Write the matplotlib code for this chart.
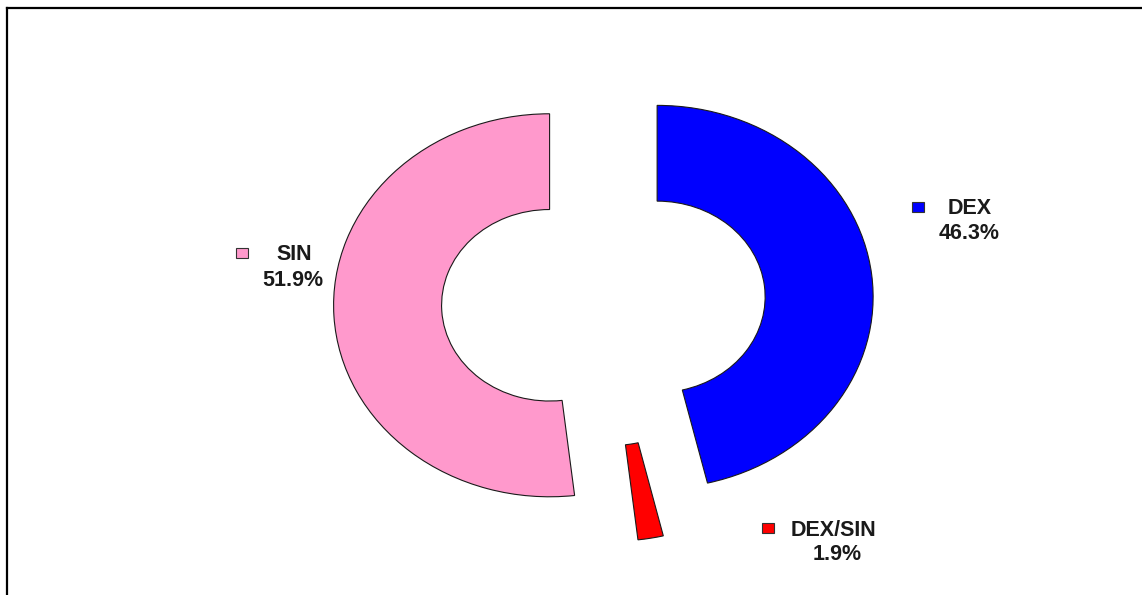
import matplotlib.pyplot as plt
from matplotlib.patches import Rectangle
from matplotlib.lines import Line2D

labels = ['DEX', 'DEX/SIN', 'SIN']
values = [46.3, 1.9, 51.9]
colors = ['#0000FF', '#FF0000', '#FF99CC']

plt.rcParams['font.family'] = ['Liberation Sans', 'DejaVu Sans']

W, H = 1142, 595
fig = plt.figure(figsize=(W / 100, H / 100), dpi=100)
ax = fig.add_axes([0, 0, 1, 1])

# ring centre and radii in pixels (wider than tall)
cx, cy, rx, ry = 603.5, 302.5, 216.0, 191.5

ax.pie(values, colors=colors, startangle=90, counterclock=False,
       explode=[0.25, 0.25, 0.25], radius=1,
       wedgeprops=dict(width=0.5, edgecolor='#1a1a1a', linewidth=0.8))
ax.set_aspect('auto')
ax.set_xlim(-cx / rx, (W - cx) / rx)
ax.set_ylim(-(H - cy) / ry, cy / ry)
ax.axis('off')

# legend-style labels: square + name + percentage
label_pos = {
    'DEX': ((918, 206.5), (970, 209), (969, 234)),
    'DEX/SIN': ((768, 528), (833, 530), (837, 555)),
    'SIN': ((241.5, 253), (294, 254), (293, 281)),
}
for name, val, col in zip(labels, values, colors):
    (sx, sy), (nx, ny), (px, py) = label_pos[name]
    fig.add_artist(Rectangle(((sx - 6) / W, 1 - (sy + 5) / H), 12 / W, 10 / H,
                             transform=fig.transFigure, facecolor=col,
                             edgecolor='#333333', linewidth=0.8))
    fig.text(nx / W, 1 - ny / H, name, ha='center', va='center',
             fontsize=15.5, fontweight='bold', color='#1a1a1a')
    fig.text(px / W, 1 - py / H, '{:.1f}%'.format(val), ha='center', va='center',
             fontsize=15.5, fontweight='bold', color='#1a1a1a')

# frame lines on the left and top
fig.add_artist(Line2D([6.5 / W, 6.5 / W], [0, 1 - 7.5 / H], color='black',
                      linewidth=1.6, transform=fig.transFigure))
fig.add_artist(Line2D([6.5 / W, 1], [1 - 7.5 / H, 1 - 7.5 / H], color='black',
                      linewidth=1.6, transform=fig.transFigure))

fig.savefig('out.png', dpi=100)
